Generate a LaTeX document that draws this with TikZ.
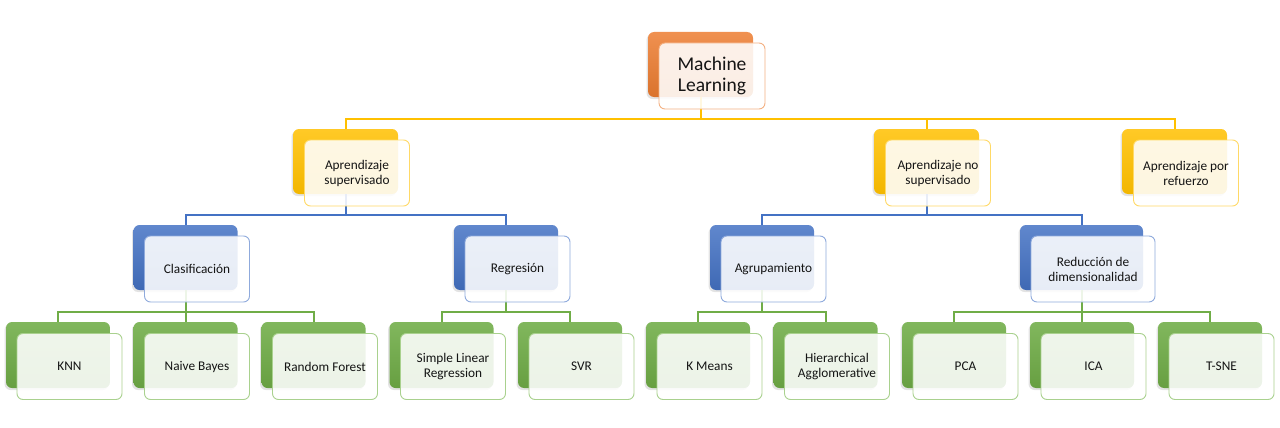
\documentclass[tikz,border=0pt]{standalone}
\usepackage{fontspec}
\setmainfont{Carlito}
\usetikzlibrary{shadows}
\definecolor{cOr}{HTML}{ED7D31}
\definecolor{cYe}{HTML}{FFC000}
\definecolor{cBl}{HTML}{4472C4}
\definecolor{cGr}{HTML}{70AD47}
\definecolor{bOr}{HTML}{F4B183}
\definecolor{bYe}{HTML}{FFD966}
\definecolor{bBl}{HTML}{8FAADC}
\definecolor{bGr}{HTML}{A9D18E}
\definecolor{txt}{HTML}{141414}
\tikzset{
  backbox/.style={rounded corners=6pt, minimum width=104pt, minimum height=66pt, inner sep=0pt,
    drop shadow={shadow xshift=-1.5pt, shadow yshift=-2pt, opacity=0.22}},
  orb/.style={backbox, top color=cOr!85!white, bottom color=cOr!92!black},
  yeb/.style={backbox, top color=cYe!85!white, bottom color=cYe!95!black},
  blb/.style={backbox, top color=cBl!85!white, bottom color=cBl!92!black},
  grb/.style={backbox, top color=cGr!88!white, bottom color=cGr!92!black},
  frontbox/.style={rounded corners=6pt, minimum width=105pt, minimum height=66pt, inner sep=1pt,
    fill=white, fill opacity=0.88, text opacity=1, line width=0.9pt, align=center,
    font=\fontsize{13.3}{15}\selectfont, text=txt},
  orf/.style={frontbox, draw=bOr},
  yef/.style={frontbox, draw=bYe},
  blf/.style={frontbox, draw=bBl},
  grf/.style={frontbox, draw=bGr},
  conn/.style={line width=2pt},
  yline/.style={conn, draw=cYe},
  bline/.style={conn, draw=cBl},
  gline/.style={conn, draw=cGr},
  off/.style={at={([shift={(11.5,11.5)}]#1.center)}}
}
\begin{document}
\begin{tikzpicture}[x=1pt,y=-1pt]
\useasboundingbox (0,0) rectangle (1280,428);
% back boxes
\node[orb, minimum width=105pt, minimum height=65pt] (mlb) at (700.5,64.5) {};
\node[yeb, minimum width=105pt, minimum height=65pt] (supb) at (345.5,161.5) {};
\node[yeb, minimum width=105pt, minimum height=65pt] (nsupb) at (926.5,161.5) {};
\node[yeb, minimum width=105pt, minimum height=65pt] (refb) at (1174.5,161.5) {};
\node[blb, minimum height=65pt] (clab) at (185.5,257.5) {};
\node[blb, minimum height=65pt] (regb) at (506,257.5) {};
\node[blb, minimum height=65pt] (agrb) at (762,257.5) {};
\node[blb, minimum width=123pt, minimum height=65pt] (redb) at (1081.5,257.5) {};
\node[grb] (knnb) at (58,355) {};
\node[grb] (nbb) at (185.5,355) {};
\node[grb] (rfb) at (313.5,355) {};
\node[grb] (slrb) at (441.5,355) {};
\node[grb] (svrb) at (570,355) {};
\node[grb] (kmb) at (698,355) {};
\node[grb] (hab) at (825.5,355) {};
\node[grb] (pcab) at (954,355) {};
\node[grb] (icab) at (1082,355) {};
\node[grb] (tsneb) at (1210,355) {};
% bus levels
\coordinate (y1) at (0,119);
\coordinate (y2) at (0,215);
\coordinate (y3) at (0,312);
% connectors
\draw[yline] (mlb.south) -- (mlb.south |- y1) -| (supb.north);
\draw[yline] (mlb.south) -- (mlb.south |- y1) -| (nsupb.north);
\draw[yline] (mlb.south) -- (mlb.south |- y1) -| (refb.north);
\draw[bline] (supb.south) -- (supb.south |- y2) -| (clab.north);
\draw[bline] (supb.south) -- (supb.south |- y2) -| (regb.north);
\draw[bline] (nsupb.south) -- (nsupb.south |- y2) -| (agrb.north);
\draw[bline] (nsupb.south) -- (nsupb.south |- y2) -| (redb.north);
\draw[gline] (clab.south) -- (clab.south |- y3) -| (knnb.north);
\draw[gline] (clab.south) -- (clab.south |- y3) -| (nbb.north);
\draw[gline] (clab.south) -- (clab.south |- y3) -| (rfb.north);
\draw[gline] (regb.south) -- (regb.south |- y3) -| (slrb.north);
\draw[gline] (regb.south) -- (regb.south |- y3) -| (svrb.north);
\draw[gline] (agrb.south) -- (agrb.south |- y3) -| (kmb.north);
\draw[gline] (agrb.south) -- (agrb.south |- y3) -| (hab.north);
\draw[gline] (redb.south) -- (redb.south |- y3) -| (pcab.north);
\draw[gline] (redb.south) -- (redb.south |- y3) -| (icab.north);
\draw[gline] (redb.south) -- (redb.south |- y3) -| (tsneb.north);
% front boxes
\node[orf, off=mlb, minimum width=106pt, font=\fontsize{19.5}{21}\selectfont] (ml) {Machine\\Learning};
\node[yef, off=supb] (sup) {Aprendizaje\\supervisado};
\node[yef, off=nsupb] (nsup) {Aprendizaje no\\supervisado};
\node[yef, off=refb] (ref) {Aprendizaje por\\refuerzo};
\node[blf, off=clab] (cla) {Clasificación};
\node[blf, off=regb] (reg) {Regresión};
\node[blf, off=agrb] (agr) {Agrupamiento};
\node[blf, off=redb, minimum width=124pt] (red) {Reducción de\\dimensionalidad};
\node[grf, off=knnb] (knn) {KNN};
\node[grf, off=nbb] (nb) {Naive Bayes};
\node[grf, off=rfb] (rf) {Random Forest};
\node[grf, off=slrb] (slr) {Simple Linear\\Regression};
\node[grf, off=svrb] (svr) {SVR};
\node[grf, off=kmb] (km) {K Means};
\node[grf, off=hab] (ha) {Hierarchical\\Agglomerative};
\node[grf, off=pcab] (pca) {PCA};
\node[grf, off=icab] (ica) {ICA};
\node[grf, off=tsneb] (tsne) {T-SNE};
\end{tikzpicture}
\end{document}
